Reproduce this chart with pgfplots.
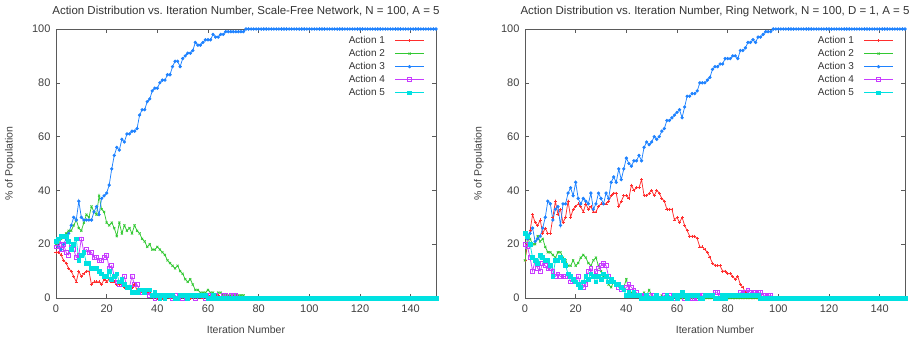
\documentclass[border=0pt]{standalone}
\usepackage{fontspec}
\setmainfont{Liberation Sans}
\usepackage{pgfplots}
\usepackage{pgfplotstable}
\pgfplotsset{compat=1.18}
\definecolor{gpred}{RGB}{255,45,45}
\definecolor{gpgreen}{RGB}{50,200,50}
\definecolor{gpblue}{RGB}{30,130,255}
\definecolor{gppurple}{RGB}{200,60,255}
\definecolor{gpcyan}{RGB}{0,225,225}
\definecolor{gpframe}{RGB}{90,90,90}
\pgfplotstableread{
it a1 a2 a3 a4 a5
0 17 20 21 19 21
1 17 21 19 21 22
2 16 22 18 18 23
3 14 23 20 20 23
4 13 24 22 17 23
5 11 25 24 16 21
6 10 25 27 19 18
7 8 27 30 18 20
8 6 29 29 15 22
9 10 26 36 16 14
10 8 25 30 22 16
11 9 28 29 17 17
12 10 31 29 18 13
13 10 30 29 17 13
14 5 34 29 17 11
15 6 32 32 15 11
16 6 31 34 15 11
17 6 38 31 14 10
18 5 33 37 14 9
19 7 32 38 15 8
20 6 28 39 16 8
21 7 27 42 11 10
22 6 28 48 12 7
23 6 26 53 8 8
24 5 23 56 6 9
25 5 28 55 5 6
26 5 24 59 6 7
27 4 27 58 8 5
28 4 25 61 4 4
29 4 26 61 4 4
30 4 24 62 8 2
31 5 27 62 5 2
32 3 25 63 5 2
33 3 24 68 3 3
34 2 22 70 2 3
35 3 21 70 2 2
36 2 19 73 2 3
37 2 20 74 1 3
38 1 18 77 1 1
39 1 18 78 0 2
40 0 19 78 1 1
41 1 18 80 0 0
42 0 17 81 1 1
43 0 16 81 0 0
44 1 14 83 1 1
45 0 13 83 1 1
46 1 12 86 0 1
47 0 11 88 1 0
48 0 12 88 0 0
49 1 10 86 1 1
50 1 9 89 0 1
51 0 7 90 1 1
52 1 6 91 1 0
53 0 7 91 1 1
54 1 5 92 1 1
55 1 3 95 0 1
56 1 3 94 1 1
57 1 2 94 1 1
58 0 2 95 1 1
59 1 2 96 0 1
60 0 3 96 1 0
61 1 2 96 1 0
62 0 2 98 0 1
63 1 1 97 1 0
64 1 2 97 0 0
65 0 2 98 0 0
66 0 1 98 1 0
67 0 1 99 1 0
68 0 1 99 0 0
69 0 1 99 1 0
70 0 1 99 1 0
71 0 1 99 1 0
72 0 1 99 0 0
73 0 1 99 0 0
74 0 1 99 0 0
75 0 0 100 0 0
76 0 0 100 0 0
77 0 0 100 0 0
78 0 0 100 0 0
79 0 0 100 0 0
80 0 0 100 0 0
81 0 0 100 0 0
82 0 0 100 0 0
83 0 0 100 0 0
84 0 0 100 0 0
85 0 0 100 0 0
86 0 0 100 0 0
87 0 0 100 0 0
88 0 0 100 0 0
89 0 0 100 0 0
90 0 0 100 0 0
91 0 0 100 0 0
92 0 0 100 0 0
93 0 0 100 0 0
94 0 0 100 0 0
95 0 0 100 0 0
96 0 0 100 0 0
97 0 0 100 0 0
98 0 0 100 0 0
99 0 0 100 0 0
100 0 0 100 0 0
101 0 0 100 0 0
102 0 0 100 0 0
103 0 0 100 0 0
104 0 0 100 0 0
105 0 0 100 0 0
106 0 0 100 0 0
107 0 0 100 0 0
108 0 0 100 0 0
109 0 0 100 0 0
110 0 0 100 0 0
111 0 0 100 0 0
112 0 0 100 0 0
113 0 0 100 0 0
114 0 0 100 0 0
115 0 0 100 0 0
116 0 0 100 0 0
117 0 0 100 0 0
118 0 0 100 0 0
119 0 0 100 0 0
120 0 0 100 0 0
121 0 0 100 0 0
122 0 0 100 0 0
123 0 0 100 0 0
124 0 0 100 0 0
125 0 0 100 0 0
126 0 0 100 0 0
127 0 0 100 0 0
128 0 0 100 0 0
129 0 0 100 0 0
130 0 0 100 0 0
131 0 0 100 0 0
132 0 0 100 0 0
133 0 0 100 0 0
134 0 0 100 0 0
135 0 0 100 0 0
136 0 0 100 0 0
137 0 0 100 0 0
138 0 0 100 0 0
139 0 0 100 0 0
140 0 0 100 0 0
141 0 0 100 0 0
142 0 0 100 0 0
143 0 0 100 0 0
144 0 0 100 0 0
145 0 0 100 0 0
146 0 0 100 0 0
147 0 0 100 0 0
148 0 0 100 0 0
149 0 0 100 0 0
150 0 0 100 0 0
}\sfdata
\pgfplotstableread{
it a1 a2 a3 a4 a5
0 14 14 24 20 24
1 20 23 22 19 23
2 25 22 24 15 20
3 31 20 26 10 15
4 28 20 21 14 14
5 27 23 22 11 13
6 29 21 23 10 16
7 24 22 26 13 15
8 26 19 30 12 14
9 24 17 36 11 14
10 24 17 35 11 12
11 30 16 29 10 8
12 36 15 33 8 14
13 31 17 34 9 14
14 33 17 27 8 15
15 28 15 35 8 14
16 30 14 35 8 12
17 36 12 39 9 9
18 30 12 41 6 8
19 33 14 38 7 7
20 34 12 43 6 6
21 35 13 37 8 5
22 34 15 35 5 4
23 32 16 37 4 6
24 35 15 36 5 8
25 33 13 35 10 7
26 34 12 39 11 9
27 32 14 33 8 8
28 32 15 35 10 6
29 34 12 39 11 8
30 35 10 37 12 7
31 35 8 35 13 9
32 35 8 39 12 8
33 36 5 37 8 6
34 38 4 43 7 7
35 39 6 45 6 6
36 39 5 43 5 5
37 34 5 48 4 5
38 36 4 44 3 4
39 38 4 48 3 3
40 38 7 52 4 1
41 37 3 50 5 2
42 42 2 49 4 1
43 40 1 51 3 2
44 41 1 51 2 1
45 41 1 53 1 1
46 44 1 51 1 0
47 38 2 56 1 0
48 38 1 58 0 1
49 39 3 57 1 0
50 40 1 58 0 0
51 38 0 60 1 0
52 40 0 59 0 1
53 39 0 60 0 0
54 37 1 62 0 0
55 36 0 63 1 0
56 33 0 66 0 1
57 33 0 66 1 0
58 33 0 67 0 0
59 29 1 68 0 1
60 30 0 69 0 0
61 28 0 70 1 1
62 30 0 67 1 2
63 27 0 71 0 1
64 25 0 75 0 0
65 23 0 75 1 1
66 23 0 76 0 1
67 23 0 76 0 1
68 22 0 77 0 1
69 19 0 80 1 0
70 19 0 80 1 0
71 18 0 80 1 1
72 17 0 81 1 1
73 15 0 82 1 1
74 13 0 85 1 1
75 12 0 86 2 0
76 12 0 86 2 0
77 12 0 87 1 0
78 10 0 87 1 1
79 10 0 89 1 0
80 9 0 89 1 1
81 9 0 89 1 1
82 8 0 90 1 1
83 7 0 90 1 1
84 8 0 89 1 1
85 5 0 92 2 1
86 4 0 92 2 1
87 2 0 93 2 1
88 1 0 95 3 1
89 1 0 95 2 1
90 1 0 96 2 1
91 1 0 95 2 1
92 0 0 97 2 1
93 0 0 97 2 0
94 0 0 98 1 0
95 0 0 99 1 0
96 0 0 99 1 0
97 0 0 99 1 0
98 0 0 100 0 0
99 0 0 100 0 0
100 0 0 100 0 0
101 0 0 100 0 0
102 0 0 100 0 0
103 0 0 100 0 0
104 0 0 100 0 0
105 0 0 100 0 0
106 0 0 100 0 0
107 0 0 100 0 0
108 0 0 100 0 0
109 0 0 100 0 0
110 0 0 100 0 0
111 0 0 100 0 0
112 0 0 100 0 0
113 0 0 100 0 0
114 0 0 100 0 0
115 0 0 100 0 0
116 0 0 100 0 0
117 0 0 100 0 0
118 0 0 100 0 0
119 0 0 100 0 0
120 0 0 100 0 0
121 0 0 100 0 0
122 0 0 100 0 0
123 0 0 100 0 0
124 0 0 100 0 0
125 0 0 100 0 0
126 0 0 100 0 0
127 0 0 100 0 0
128 0 0 100 0 0
129 0 0 100 0 0
130 0 0 100 0 0
131 0 0 100 0 0
132 0 0 100 0 0
133 0 0 100 0 0
134 0 0 100 0 0
135 0 0 100 0 0
136 0 0 100 0 0
137 0 0 100 0 0
138 0 0 100 0 0
139 0 0 100 0 0
140 0 0 100 0 0
141 0 0 100 0 0
142 0 0 100 0 0
143 0 0 100 0 0
144 0 0 100 0 0
145 0 0 100 0 0
146 0 0 100 0 0
147 0 0 100 0 0
148 0 0 100 0 0
149 0 0 100 0 0
150 0 0 100 0 0
}\ringdata
\begin{document}
\begin{tikzpicture}
\pgfplotsset{
  gp/.style={
    scale only axis, width=380pt, height=269pt,
    anchor=south west,
    xmin=0, xmax=150, ymin=0, ymax=100,
    xtick={0,20,...,140}, ytick={0,20,...,100},
    tick align=inside, major tick length=4pt,
    xtick pos=both, ytick pos=both,
    axis line style={gpframe, line width=0.8pt},
    every tick/.style={gpframe, line width=0.6pt},
    font=\fontsize{11}{13}\selectfont,
    tick label style={font=\fontsize{11}{13}\selectfont, text=black!75},
    xticklabel style={yshift=-3pt},
    yticklabel style={xshift=-2pt},
    /pgf/number format/assume math mode=true,
    title style={font=\fontsize{11.5}{13}\selectfont, text=black!80, yshift=3pt},
    xlabel={Iteration Number},
    ylabel={\% of Population},
    every axis x label/.style={at={(axis description cs:0.5,0)}, anchor=center, yshift=-32pt},
    every axis y label/.style={at={(axis description cs:0,0.5)}, xshift=-46pt, rotate=90, anchor=center},
    label style={font=\fontsize{10.5}{12}\selectfont, text=black!75},
    legend cell align=right,
    legend plot pos=right,
    legend style={at={(rel axis cs:0.972,0.985)}, anchor=north east, draw=none, fill=none,
      font=\fontsize{10}{12}\selectfont, text=black!80, row sep=0.3pt, column sep=8pt, inner sep=1pt},
    legend image code/.code={\draw[mark repeat=2,mark phase=2] plot coordinates {(0cm,0cm)(0.5cm,0cm)(1.0cm,0cm)};},
    every axis plot/.append style={line width=0.75pt, mark options={solid, line width=0.7pt}},
  },
  s1/.style={gpred, mark=+, mark size=1.5pt},
  s2/.style={gpgreen, mark=x, mark size=1.5pt},
  s3/.style={gpblue, mark=*, mark size=1.3pt},
  s4/.style={gppurple, mark=square, mark size=1.9pt},
  s5/.style={gpcyan, mark=square*, mark size=1.9pt},
}
\begin{axis}[gp, at={(0pt,0pt)},
  title={Action Distribution vs.\ Iteration Number, Scale-Free Network, N = 100, A = 5}]
\addplot[s1] table[x=it,y=a1]{\sfdata};
\addlegendentry{Action 1}
\addplot[s2] table[x=it,y=a2]{\sfdata};
\addlegendentry{Action 2}
\addplot[s3] table[x=it,y=a3]{\sfdata};
\addlegendentry{Action 3}
\addplot[s4] table[x=it,y=a4]{\sfdata};
\addlegendentry{Action 4}
\addplot[s5] table[x=it,y=a5]{\sfdata};
\addlegendentry{Action 5}
\end{axis}
\begin{axis}[gp, at={(469pt,0pt)},
  title={Action Distribution vs.\ Iteration Number, Ring Network, N = 100, D = 1, A = 5}]
\addplot[s1] table[x=it,y=a1]{\ringdata};
\addlegendentry{Action 1}
\addplot[s2] table[x=it,y=a2]{\ringdata};
\addlegendentry{Action 2}
\addplot[s3] table[x=it,y=a3]{\ringdata};
\addlegendentry{Action 3}
\addplot[s4] table[x=it,y=a4]{\ringdata};
\addlegendentry{Action 4}
\addplot[s5] table[x=it,y=a5]{\ringdata};
\addlegendentry{Action 5}
\end{axis}
\pgfresetboundingbox
\path[use as bounding box] (-56pt,-43pt) rectangle (853pt,298pt);
\end{tikzpicture}
\end{document}
